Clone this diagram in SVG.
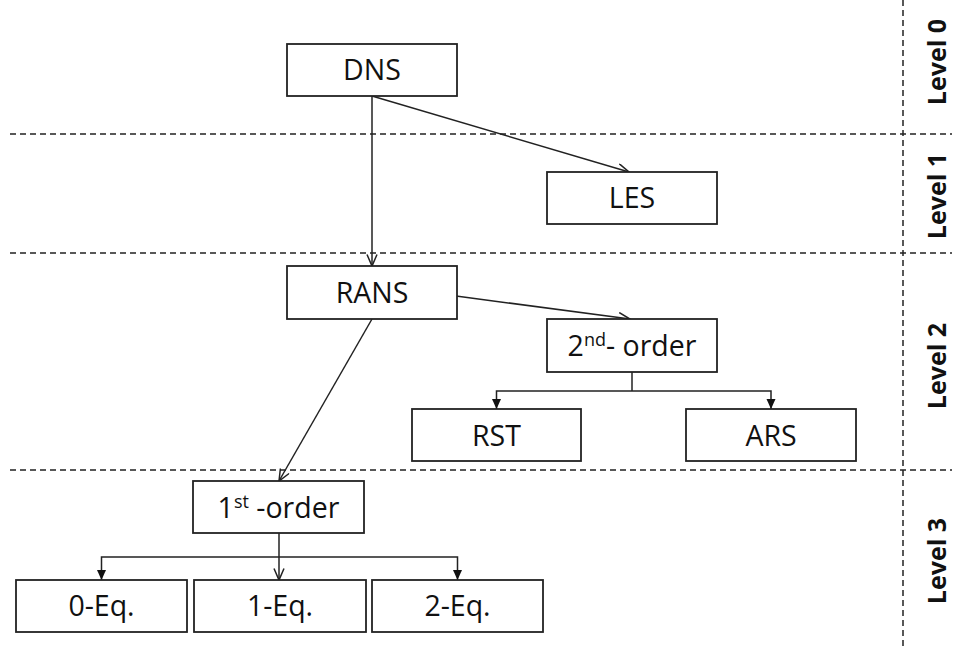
<svg xmlns="http://www.w3.org/2000/svg" width="956" height="649" viewBox="0 0 956 649">
  <style>
    .box rect { fill: #ffffff; stroke: #222222; stroke-width: 1.8; }
    .box text { font-family: "Open Sans", "Liberation Sans", sans-serif; font-size: 28.5px; fill: #111111; text-anchor: middle; }
    .sup { font-size: 18px; }
    .grid { stroke: #222222; stroke-width: 1.5; stroke-dasharray: 6 4; fill: none; }
    .level { font-family: "Open Sans", "Liberation Sans", sans-serif; font-weight: bold; font-size: 25px; fill: #111111; text-anchor: middle; }
    .conn { stroke: #222222; stroke-width: 1.5; fill: none; }
  </style>
  <defs>
    <marker id="open" markerUnits="userSpaceOnUse" markerWidth="14" markerHeight="12" refX="12" refY="5.5" orient="auto">
      <path d="M0.5,0.5 L12,5.5 L0.5,10.5" fill="none" stroke="#222222" stroke-width="1.5"/>
    </marker>
    <marker id="solid" markerUnits="userSpaceOnUse" markerWidth="11" markerHeight="10" refX="10" refY="4.5" orient="auto">
      <path d="M0,0 L10,4.5 L0,9 Z" fill="#111111"/>
    </marker>
  </defs>

  <!-- level separators -->
  <g id="grid">
    <line class="grid" x1="10" y1="134" x2="952" y2="134"/>
    <line class="grid" x1="10" y1="253" x2="952" y2="253"/>
    <line class="grid" x1="10" y1="470" x2="952" y2="470"/>
    <line class="grid" x1="903" y1="0" x2="903" y2="649"/>
  </g>

  <!-- level labels -->
  <g id="levels">
    <text class="level" transform="translate(946,62) rotate(-90)">Level 0</text>
    <text class="level" transform="translate(946,196) rotate(-90)">Level 1</text>
    <text class="level" transform="translate(946,366) rotate(-90)">Level 2</text>
    <text class="level" transform="translate(946,561) rotate(-90)">Level 3</text>
  </g>

  <!-- connectors -->
  <g id="connectors">
    <line class="conn" x1="372" y1="96" x2="629" y2="172" marker-end="url(#open)"/>
    <line class="conn" x1="372" y1="96" x2="372" y2="266" marker-end="url(#open)"/>
    <line class="conn" x1="456" y1="296" x2="630" y2="319" marker-end="url(#open)"/>
    <line class="conn" x1="372" y1="319" x2="279" y2="481" marker-end="url(#open)"/>
    <path class="conn" d="M632,372 V391"/>
    <path class="conn" d="M632,391 H496.5 V409" marker-end="url(#solid)"/>
    <path class="conn" d="M632,391 H771 V409" marker-end="url(#solid)"/>
    <path class="conn" d="M279,533 V557"/>
    <path class="conn" d="M279,557 H101.5 V580" marker-end="url(#solid)"/>
    <path class="conn" d="M279,557 H457.5 V580" marker-end="url(#solid)"/>
    <line class="conn" x1="279" y1="557" x2="279" y2="580" marker-end="url(#open)"/>
  </g>

  <!-- nodes -->
  <g id="dns" class="box">
    <rect x="287" y="44" width="170" height="52"/>
    <text x="372" y="80">DNS</text>
  </g>
  <g id="les" class="box">
    <rect x="547" y="172" width="170" height="52"/>
    <text x="632" y="208">LES</text>
  </g>
  <g id="rans" class="box">
    <rect x="287" y="266" width="170" height="53"/>
    <text x="372" y="303">RANS</text>
  </g>
  <g id="second-order" class="box">
    <rect x="547" y="319" width="170" height="53"/>
    <text x="632" y="356">2<tspan class="sup" dy="-10">nd</tspan><tspan dy="10">- order</tspan></text>
  </g>
  <g id="rst" class="box">
    <rect x="412" y="409" width="169" height="52"/>
    <text x="496.5" y="446">RST</text>
  </g>
  <g id="ars" class="box">
    <rect x="686" y="409" width="170" height="52"/>
    <text x="771" y="446">ARS</text>
  </g>
  <g id="first-order" class="box">
    <rect x="193" y="481" width="171" height="52"/>
    <text x="278.5" y="518">1<tspan class="sup" dy="-10">st</tspan><tspan dy="10"> -order</tspan></text>
  </g>
  <g id="zero-eq" class="box">
    <rect x="16" y="580" width="171" height="52"/>
    <text x="101.5" y="616">0-Eq.</text>
  </g>
  <g id="one-eq" class="box">
    <rect x="194" y="580" width="172" height="52"/>
    <text x="280" y="616">1-Eq.</text>
  </g>
  <g id="two-eq" class="box">
    <rect x="372" y="580" width="171" height="52"/>
    <text x="457.5" y="616">2-Eq.</text>
  </g>
</svg>
